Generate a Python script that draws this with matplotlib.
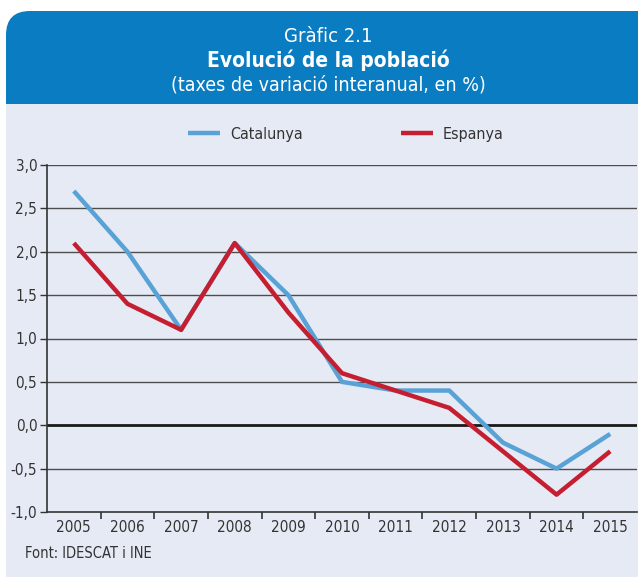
import matplotlib.pyplot as plt
from matplotlib.patches import FancyBboxPatch, Rectangle
from matplotlib.ticker import FixedLocator, FuncFormatter

years = [2005, 2006, 2007, 2008, 2009, 2010, 2011, 2012, 2013, 2014, 2015]
catalunya = [2.7, 2.0, 1.1, 2.1, 1.5, 0.5, 0.4, 0.4, -0.2, -0.5, -0.1]
espanya = [2.1, 1.4, 1.1, 2.1, 1.3, 0.6, 0.4, 0.2, -0.3, -0.8, -0.3]
yticks = [-1.0, -0.5, 0.0, 0.5, 1.0, 1.5, 2.0, 2.5, 3.0]

plt.rcParams['font.family'] = ['DejaVu Sans']
plt.rcParams['font.stretch'] = 'condensed'

W, H = 638, 578
fig = plt.figure(figsize=(W / 100, H / 100), dpi=100)
fig.patch.set_facecolor('white')

# background frame in pixel coords
bg = fig.add_axes([0, 0, 1, 1])
bg.set_xlim(0, W)
bg.set_ylim(H, 0)
bg.axis('off')
bg.add_patch(FancyBboxPatch((6, 11), W + 40, 120, boxstyle='round,pad=0,rounding_size=24',
                            facecolor='#0a7cc1', edgecolor='none'))
bg.add_patch(Rectangle((6, 104), W, 473, facecolor='#e6eaf5', edgecolor='none'))
bg.text(328, 37, 'Gràfic 2.1', color='white', fontsize=14.5, ha='center', va='center')
bg.text(328, 60, 'Evolució de la població', color='white', fontsize=15, fontweight='bold',
        ha='center', va='center')
bg.text(328, 85, '(taxes de variació interanual, en %)', color='white', fontsize=14,
        ha='center', va='center')
bg.text(25, 554, 'Font: IDESCAT i INE', color='#333333', fontsize=10.5, ha='left', va='center')

ax = fig.add_axes([47 / W, (H - 512) / H, 590 / W, 347 / H])
ax.set_facecolor('none')
x = list(range(len(years)))
l1, = ax.plot(x, catalunya, color='#58a2d6', lw=3.2, label='Catalunya', solid_capstyle='butt', zorder=3)
l2, = ax.plot(x, espanya, color='#c41e30', lw=3.2, label='Espanya', solid_capstyle='butt', zorder=3)
ax.set_xlim(-0.5, len(years) - 0.5)
ax.set_ylim(-1.0, 3.0)

ax.set_yticks(yticks)
ax.yaxis.set_major_formatter(FuncFormatter(lambda v, p: f'{v:.1f}'.replace('.', ',')))
for v in yticks[1:]:
    ax.axhline(v, color='#4d4d4d' if v != 0 else '#1a1a1a', lw=1.0 if v != 0 else 2.0, zorder=1)

ax.set_xticks(x)
ax.set_xticklabels([str(y) for y in years])
ax.xaxis.set_minor_locator(FixedLocator([i + 0.5 for i in range(len(years) - 1)]))
ax.tick_params(axis='x', which='major', length=0, pad=6, labelsize=11, labelcolor='#333333')
ax.tick_params(axis='x', which='minor', length=5, width=1.2, color='#333333')
ax.tick_params(axis='y', length=5, width=1, color='#333333', labelsize=11, labelcolor='#333333', pad=2)

for s in ['top', 'right']:
    ax.spines[s].set_visible(False)
for s in ['left', 'bottom']:
    ax.spines[s].set_color('#333333')
    ax.spines[s].set_linewidth(1.2)

fig.legend(handles=[l1, l2], ncol=2, loc='center', bbox_to_anchor=(346 / W, 1 - 134 / H),
           frameon=False, fontsize=11.5, handlelength=2.0, columnspacing=6.2, handletextpad=0.6,
           labelcolor='#333333')

fig.savefig('out.png', dpi=100, facecolor='white')
